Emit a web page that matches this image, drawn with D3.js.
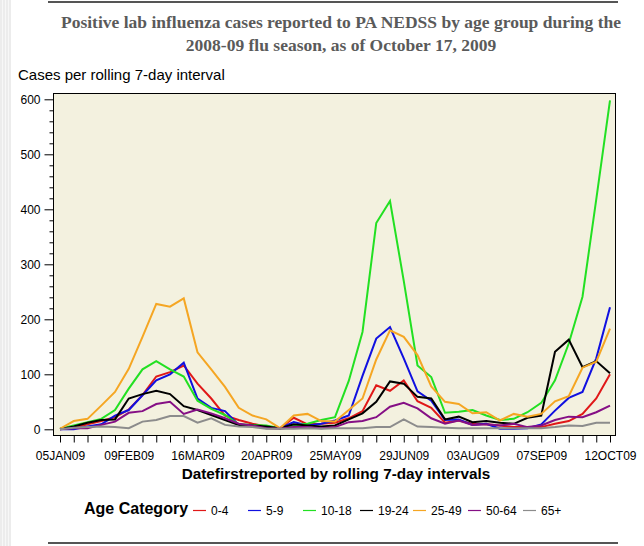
<!DOCTYPE html>
<html>
<head>
<meta charset="utf-8">
<script src="https://cdn.jsdelivr.net/npm/d3@7"></script>
<style>
html,body{margin:0;padding:0;background:#fff;}
svg{display:block;}
</style>
</head>
<body>
<svg id="chart" width="644" height="546"></svg>
<script>
// ---- data ----
const weeks = ["2009-01-05","2009-01-12","2009-01-19","2009-01-26","2009-02-02","2009-02-09","2009-02-16","2009-02-23",
"2009-03-02","2009-03-09","2009-03-16","2009-03-23","2009-03-30","2009-04-06","2009-04-13","2009-04-20","2009-04-27",
"2009-05-04","2009-05-11","2009-05-18","2009-05-25","2009-06-01","2009-06-08","2009-06-15","2009-06-22","2009-06-29",
"2009-07-06","2009-07-13","2009-07-20","2009-07-27","2009-08-03","2009-08-10","2009-08-17","2009-08-24","2009-08-31",
"2009-09-07","2009-09-14","2009-09-21","2009-09-28","2009-10-05","2009-10-12"];
const tickLabelDates = ["2009-01-05","2009-02-09","2009-03-16","2009-04-20","2009-05-25","2009-06-29","2009-08-03","2009-09-07","2009-10-12"];
const tickLabels = ["05JAN09","09FEB09","16MAR09","20APR09","25MAY09","29JUN09","03AUG09","07SEP09","12OCT09"];
const yTicks = [0,100,200,300,400,500,600];
const yMinorTicks = [20,40,60,80,120,140,160,180,220,240,260,280,320,340,360,380,420,440,460,480,520,540,560,580];
const categories = ["0-4","5-9","10-18","19-24","25-49","50-64","65+"];
const s0_4   = [1,3,9,15,22,36,62,96,104,116,83,56,25,17,10,5,2,21,9,10,12,20,33,80,70,89,51,39,12,16,10,9,7,4,4,4,10,15,28,56,100];
const s5_9   = [0,0,5,9,25,35,62,89,100,121,56,39,33,8,6,5,2,13,7,10,16,25,97,165,186,129,69,52,17,18,8,10,1,1,2,9,34,57,68,129,222];
const s10_18 = [1,7,13,19,35,74,109,124,109,96,52,37,26,9,8,7,2,7,10,17,22,88,177,375,415,270,116,95,30,32,35,25,17,19,31,48,89,156,241,418,598];
const s19_24 = [0,5,12,17,18,56,64,70,64,42,35,26,17,8,7,5,2,9,7,5,7,18,29,50,87,83,59,56,18,23,13,15,12,10,21,25,141,163,113,124,102];
const s25_49 = [1,15,19,43,68,110,168,228,223,238,140,109,77,39,25,18,2,25,28,15,14,35,56,127,180,168,135,78,50,46,29,31,16,28,23,28,51,60,112,123,183];
const s50_64 = [0,2,2,8,14,30,33,46,50,28,36,29,20,10,7,2,1,4,4,2,4,13,15,22,41,48,38,20,10,16,8,9,7,10,4,7,17,23,22,31,43];
const s65    = [0,3,4,5,4,2,14,17,24,24,12,20,8,5,4,1,1,1,2,1,2,2,2,4,4,18,5,4,3,2,2,2,2,2,2,2,4,7,6,12,12];
const seriesValues = [s0_4,s5_9,s10_18,s19_24,s25_49,s50_64,s65];
const colors = ["#e01818","#1010e0","#22e022","#000000","#f5a623","#850f85","#8c8c8c"];

// ---- layout ----
const svg = d3.select("#chart");
const parse = d3.timeParse("%Y-%m-%d");
const dates = weeks.map(parse);
const frame = {left:53.5, right:615.5, top:93.5, bottom:435.5};

const x = d3.scaleTime().domain([dates[0], dates[dates.length-1]]).range([60, 610]);
const y = d3.scaleLinear().domain([0,600]).range([429.3, 99.3]);

// left striped strip
const strip = svg.append("g");
strip.append("rect").attr("x",0).attr("y",0).attr("width",11).attr("height",546).attr("fill","#ececec");
[2,5,8].forEach(v=>strip.append("line").attr("x1",v+0.5).attr("x2",v+0.5).attr("y1",0).attr("y2",546)
  .attr("stroke","#f7f7f7").attr("stroke-width",1));

// rules
svg.append("line").attr("x1",48).attr("x2",618).attr("y1",2).attr("y2",2).attr("stroke","#555").attr("stroke-width",2);
svg.append("line").attr("x1",48).attr("x2",618).attr("y1",543).attr("y2",543).attr("stroke","#555").attr("stroke-width",2);

// title
const title = svg.append("text").attr("text-anchor","middle").attr("font-family","'Liberation Serif','Times New Roman',serif")
  .attr("font-weight","bold").attr("font-size",17.5).attr("fill","#5a5a5a");
title.append("tspan").attr("x",341).attr("y",28).text("Positive lab influenza cases reported to PA NEDSS by age group during the");
title.append("tspan").attr("x",341).attr("y",51).text("2008-09 flu season, as of October 17, 2009");

svg.append("text").attr("x",18).attr("y",80).attr("font-family","'Liberation Sans',Arial,sans-serif")
  .attr("font-size",15).attr("fill","#000").text("Cases per rolling 7-day interval");

// plot background
svg.append("rect").attr("x",frame.left).attr("y",frame.top).attr("width",frame.right-frame.left)
  .attr("height",frame.bottom-frame.top).attr("fill","#f3f1df").attr("stroke","#000").attr("stroke-width",1);

// y axis
const yAxis = d3.axisLeft(y).tickValues(yTicks).tickSize(9).tickPadding(4).tickFormat(d3.format("d"));
const gy = svg.append("g").attr("transform",`translate(${frame.left},0)`).call(yAxis);
gy.select(".domain").remove();
gy.selectAll("text").attr("font-family","'Liberation Sans',Arial,sans-serif").attr("font-size",12).attr("fill","#000");
const yMinor = d3.axisLeft(y).tickValues(yMinorTicks).tickSize(4).tickFormat("");
const gym = svg.append("g").attr("transform",`translate(${frame.left},0)`).call(yMinor);
gym.select(".domain").remove();

// x axis
const labelMap = new Map(tickLabelDates.map((d,i)=>[d, tickLabels[i]]));
const fmt = d3.timeFormat("%Y-%m-%d");
const xAxis = d3.axisBottom(x).tickValues(dates).tickSize(7).tickPadding(9)
  .tickFormat(d => labelMap.get(fmt(d)) || "");
const gx = svg.append("g").attr("transform",`translate(0,${frame.bottom})`).call(xAxis);
gx.select(".domain").remove();
gx.selectAll("text").attr("font-family","'Liberation Sans',Arial,sans-serif").attr("font-size",12).attr("fill","#000");

svg.append("text").attr("x",336).attr("y",479).attr("text-anchor","middle")
  .attr("font-family","'Liberation Sans',Arial,sans-serif").attr("font-weight","bold").attr("font-size",15.3)
  .text("Datefirstreported by rolling 7-day intervals");

// lines
const line = d3.line().x((d,i)=>x(dates[i])).y(d=>y(d));
const gl = svg.append("g");
seriesValues.forEach((vals,k)=>{
  gl.append("path").datum(vals).attr("d",line).attr("fill","none")
    .attr("stroke",colors[k]).attr("stroke-width",2).attr("stroke-linejoin","miter");
});

// legend
svg.append("text").attr("x",84).attr("y",514).attr("font-family","'Liberation Sans',Arial,sans-serif")
  .attr("font-weight","bold").attr("font-size",16).text("Age Category");
const legendX = [193, 248, 303, 360, 413, 468, 523];
const lg = svg.append("g");
categories.forEach((c,k)=>{
  lg.append("line").attr("x1",legendX[k]).attr("x2",legendX[k]+13).attr("y1",510.5).attr("y2",510.5)
    .attr("stroke",colors[k]).attr("stroke-width",1.2);
  lg.append("text").attr("x",legendX[k]+18).attr("y",515).attr("font-family","'Liberation Sans',Arial,sans-serif")
    .attr("font-size",12).text(c);
});
</script>
</body>
</html>
